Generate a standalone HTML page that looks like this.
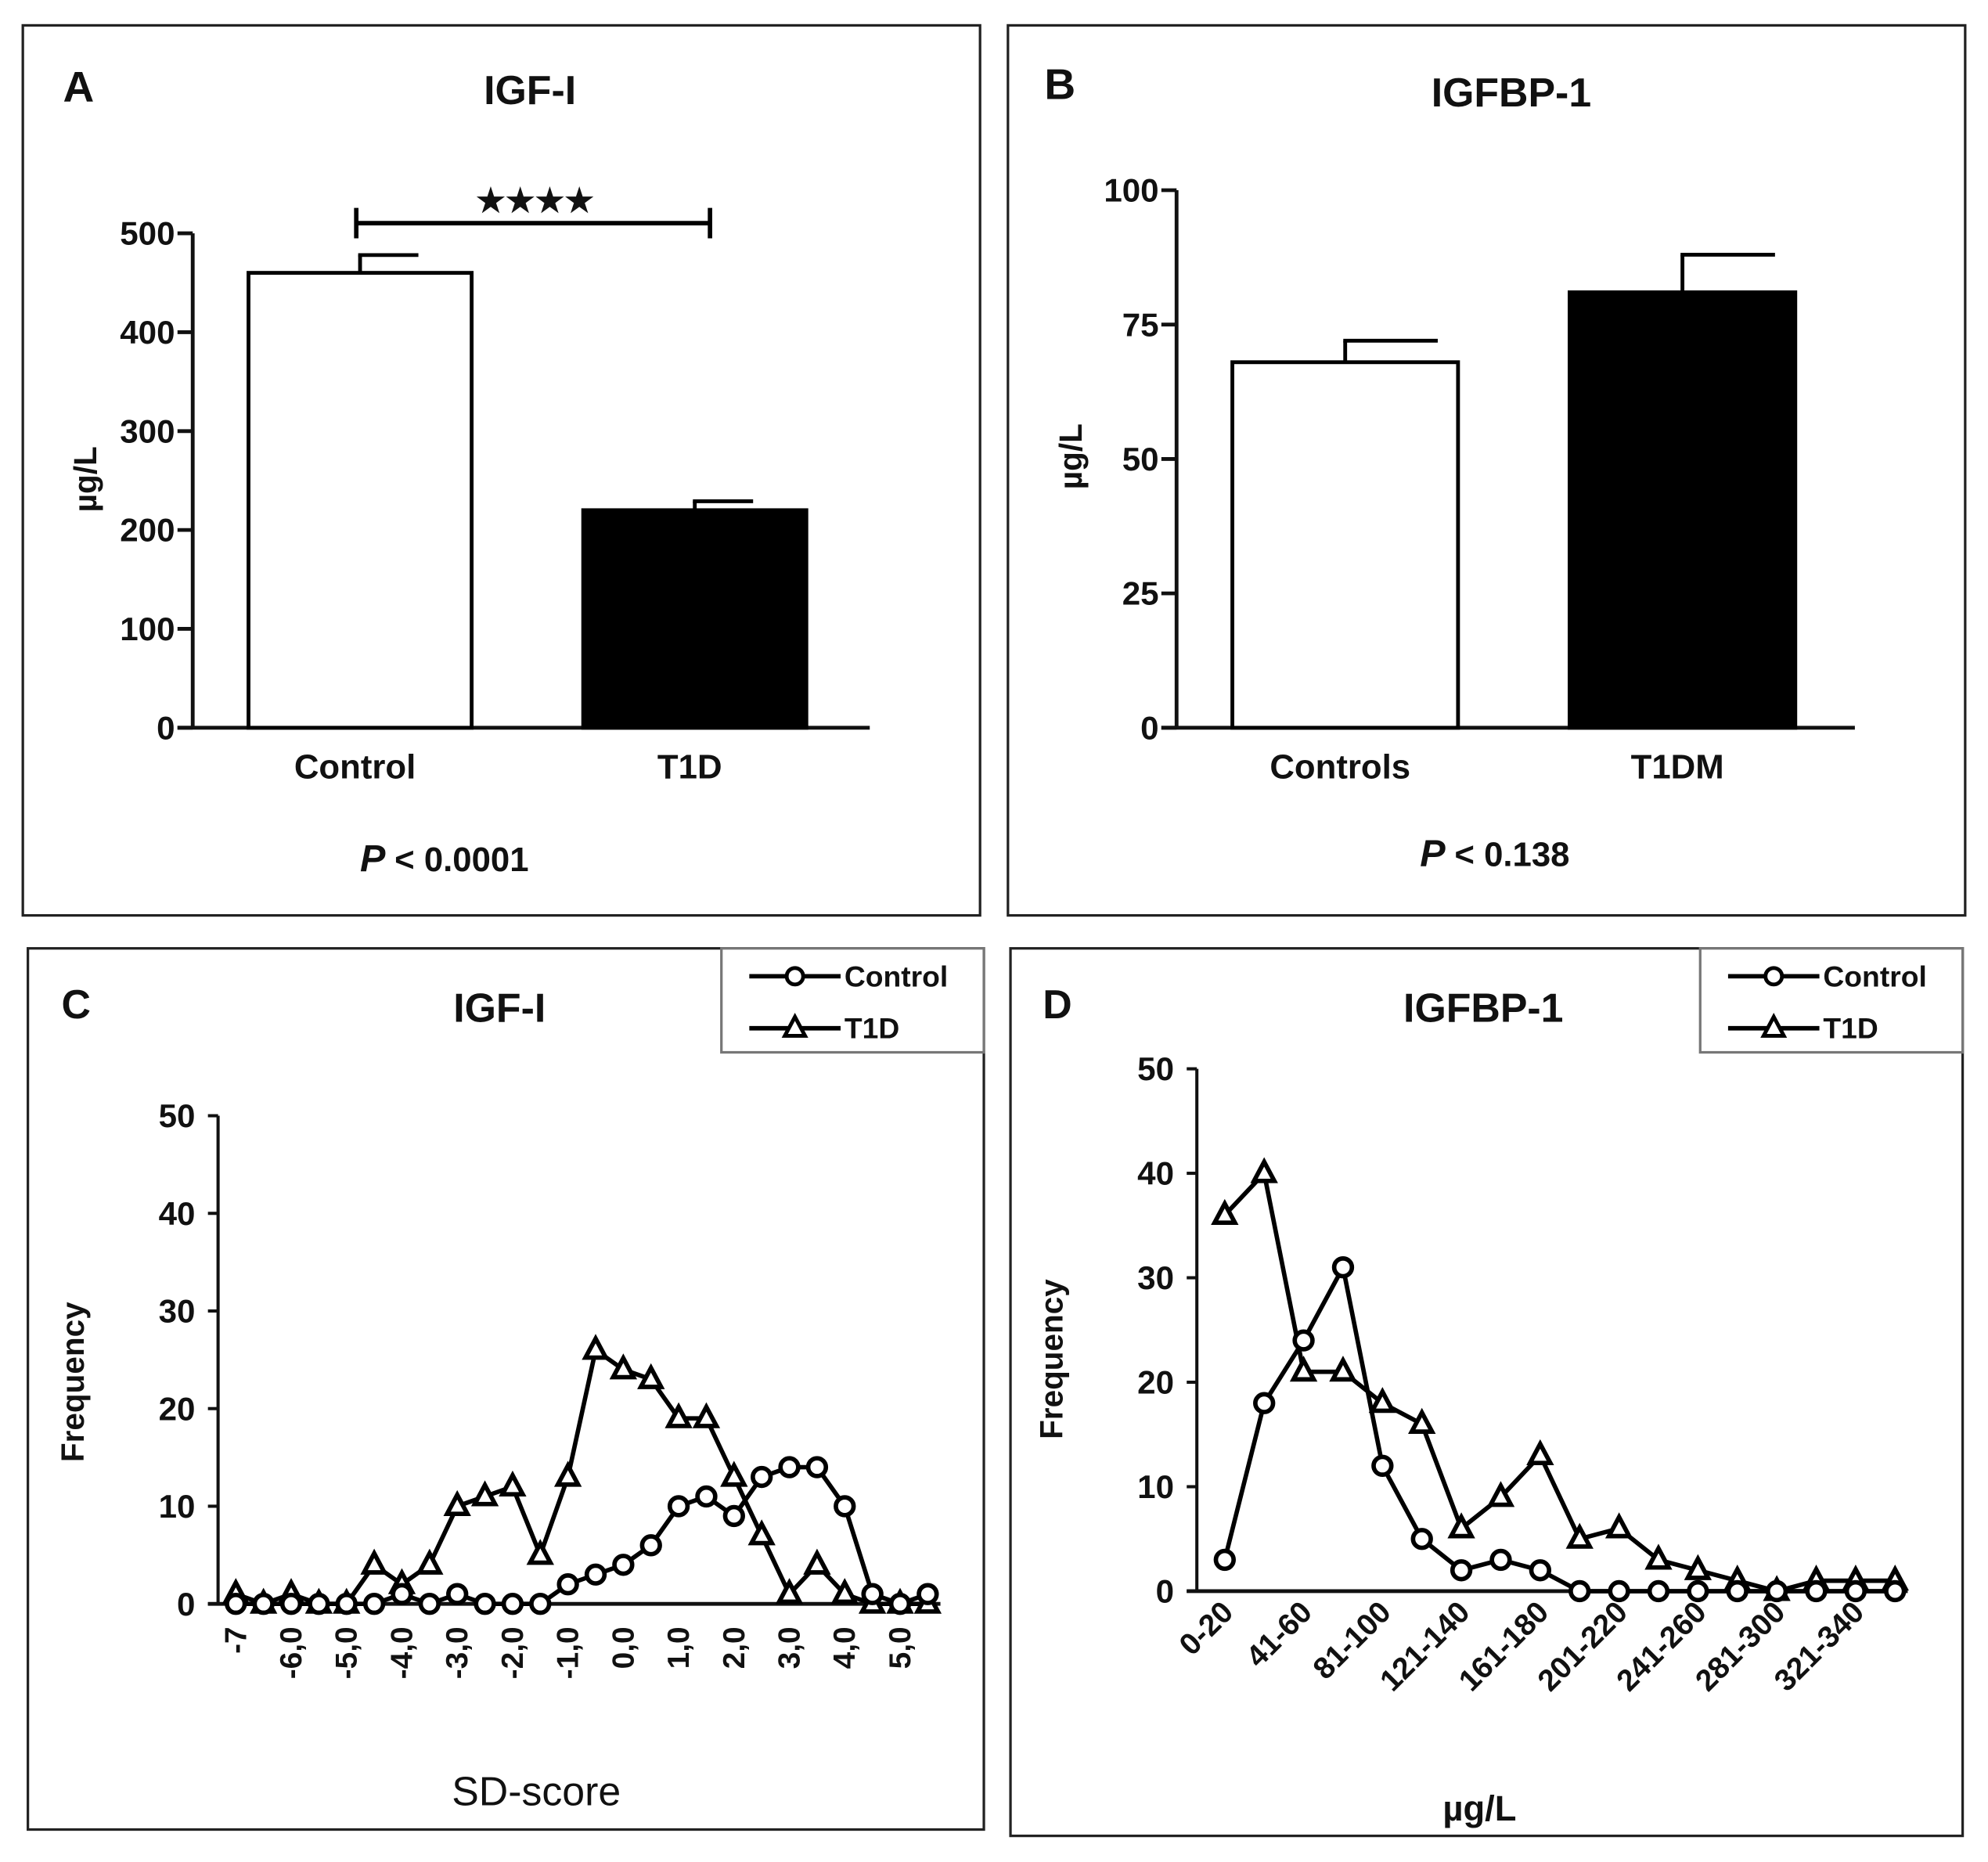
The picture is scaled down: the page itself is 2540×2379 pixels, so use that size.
<!DOCTYPE html>
<html><head><meta charset="utf-8"><style>
html,body{margin:0;padding:0;background:#fff}
svg{display:block}
text{font-family:"Liberation Sans",sans-serif;fill:#111}
</style></head><body>
<svg id="fig" width="2540" height="2379" viewBox="0 0 1568 1468.6" xmlns="http://www.w3.org/2000/svg">
<rect x="0" y="0" width="1568" height="1469" fill="#fff"/>
<rect x="18" y="20" width="755" height="702" fill="none" stroke="#222" stroke-width="2"/>
<rect x="795" y="20" width="755" height="702" fill="none" stroke="#222" stroke-width="2"/>
<rect x="22" y="748" width="754" height="695" fill="none" stroke="#222" stroke-width="2"/>
<rect x="797" y="748" width="751" height="700" fill="none" stroke="#222" stroke-width="2"/>
<g id="g"></g>
</svg>
<script>
// Panel A data
const aCats = ["Control","T1D"];
const aVals = [460,220];
const aErr = [478,229];
const aTicks = [0,100,200,300,400,500];
// Panel B data
const bCats = ["Controls","T1DM"];
const bVals = [68,81];
const bErr = [72,88];
const bTicks = [0,25,50,75,100];
// Panel C data
const cLabels = ["-7","-6,0","-5,0","-4,0","-3,0","-2,0","-1,0","0,0","1,0","2,0","3,0","4,0","5,0"];
const cControl = [0,0,0,0,0,0,1,0,1,0,0,0,2,3,4,6,10,11,9,13,14,14,10,1,0,1];
const cT1D = [1,0,1,0,0,4,2,4,10,11,12,5,13,26,24,23,19,19,13,7,1,4,1,0,0,0];
const cTicks = [0,10,20,30,40,50];
// Panel D data
const dLabels = ["0-20","41-60","81-100","121-140","161-180","201-220","241-260","281-300","321-340"];
const dControl = [3,18,24,31,12,5,2,3,2,0,0,0,0,0,0,0,0,0];
const dT1D = [36,40,21,21,18,16,6,9,13,5,6,3,2,1,0,1,1,1];
const dTicks = [0,10,20,30,40,50];

const NS="http://www.w3.org/2000/svg";
const G=document.getElementById('g');
function el(tag,attrs,parent){const e=document.createElementNS(NS,tag);for(const k in attrs)e.setAttribute(k,attrs[k]);(parent||G).appendChild(e);return e;}
function txt(x,y,s,size,opts){const t=el('text',Object.assign({x:x,y:y,'font-size':size,'font-weight':'bold','text-anchor':'middle'},opts||{}));t.textContent=s;return t;}

function barPanel(cfg){
  const y=v=>cfg.y0-(v/cfg.max)*(cfg.y0-cfg.yTop);
  const ax=el('line',{x1:cfg.ax,y1:y(cfg.max),x2:cfg.ax,y2:cfg.y0,stroke:'#111','stroke-width':3});
  
  const xa=el('line',{x1:cfg.ax-12,y1:cfg.y0,x2:cfg.xEnd,y2:cfg.y0,stroke:'#111','stroke-width':3});
  
  cfg.ticks.forEach(v=>{
    const l=el('line',{x1:cfg.ax-12,y1:y(v),x2:cfg.ax,y2:y(v),stroke:'#111','stroke-width':3});
    
    const t=txt(cfg.ax-14,y(v)+9,String(v),26,{'text-anchor':'end'});
    
  });
  cfg.cats.forEach((c,i)=>{
    const x0=cfg.barX[i], w=cfg.barW;
    const r=el('rect',{x:x0,y:y(cfg.vals[i]),width:w,height:cfg.y0-y(cfg.vals[i]),fill:i?'#000':'#fff',stroke:'#000','stroke-width':3});
    
    const cx=x0+w/2;
    const e1=el('line',{x1:cx,y1:y(cfg.vals[i]),x2:cx,y2:y(cfg.err[i]),stroke:'#000','stroke-width':3});
    
    const e2=el('line',{x1:cx-1.5,y1:y(cfg.err[i]),x2:cx+cfg.cap,y2:y(cfg.err[i]),stroke:'#000','stroke-width':3});
    
    const t=txt(cx-4,cfg.y0+40,c,27);
    
  });
}
barPanel({p:'a',cats:aCats,vals:aVals,err:aErr,ticks:aTicks,max:500,ax:152,y0:574,yTop:184,xEnd:686,barX:[196,460],barW:176,cap:46});
barPanel({p:'b',cats:bCats,vals:bVals,err:bErr,ticks:bTicks,max:100,ax:928,y0:574,yTop:150,xEnd:1463,barX:[972,1238],barW:178,cap:73});

function linePanel(cfg){
  const n=cfg.s1.length;
  const x=i=>cfg.x0+i*cfg.step;
  const y=v=>cfg.y0-(v/50)*(cfg.y0-cfg.yTop);
  const ax=el('line',{x1:cfg.ax,y1:cfg.yTop,x2:cfg.ax,y2:cfg.y0,stroke:'#111','stroke-width':2.5});
  
  const xa=el('line',{x1:cfg.ax-8,y1:cfg.y0,x2:x(n-1)+10,y2:cfg.y0,stroke:'#111','stroke-width':3});
  
  cfg.ticks.forEach(v=>{
    const l=el('line',{x1:cfg.ax-8,y1:y(v),x2:cfg.ax,y2:y(v),stroke:'#111','stroke-width':2.5});
    
    const t=txt(cfg.ax-18,y(v)+9,String(v),26,{'text-anchor':'end'});
    
  });
  cfg.labels.forEach((s,j)=>{
    const lx=x(j*2)+8, ly=cfg.y0+18;
    const t=txt(lx,ly,s,24,{'text-anchor':'end',transform:'rotate('+cfg.rot+' '+lx+' '+ly+')'});
    
  });
  [[cfg.s2,'t1d','tri'],[cfg.s1,'control','circ']].forEach(([s,name,m])=>{
    const pl=el('polyline',{points:s.map((v,i)=>x(i)+','+y(v)).join(' '),fill:'none',stroke:'#000','stroke-width':3.5});
    
    s.forEach((v,i)=>{
      let mk;
      if(m==='circ') mk=el('circle',{cx:x(i),cy:y(v),r:7,fill:'#fff',stroke:'#000','stroke-width':3.5});
      else {const X=x(i),Y=y(v);mk=el('polygon',{points:(X)+','+(Y-9)+' '+(X-8)+','+(Y+6)+' '+(X+8)+','+(Y+6),fill:'#fff',stroke:'#000','stroke-width':3.5});}
      
    });
  });
}
linePanel({p:'c',labels:cLabels,s1:cControl,s2:cT1D,ticks:cTicks,x0:186,step:21.83,ax:172,y0:1265,yTop:880,rot:-90});
linePanel({p:'d',labels:dLabels,s1:dControl,s2:dT1D,ticks:dTicks,x0:966,step:31.1,ax:944,y0:1255,yTop:843,rot:-45});

// legends
function legend(p,bx,by){
  const r=el('rect',{x:bx,y:by,width:207,height:82,fill:'#fff',stroke:'#777','stroke-width':2});
  
  [['Control',770,'circ'],['T1D',811,'tri']].forEach(([s,yy,m])=>{
    const l=el('line',{x1:bx+22,y1:yy,x2:bx+94,y2:yy,stroke:'#000','stroke-width':3.5});
    
    const cx=bx+58;let mk;
    if(m==='circ') mk=el('circle',{cx:cx,cy:yy,r:6.5,fill:'#fff',stroke:'#000','stroke-width':3});
    else mk=el('polygon',{points:cx+','+(yy-9)+' '+(cx-8)+','+(yy+6)+' '+(cx+8)+','+(yy+6),fill:'#fff',stroke:'#000','stroke-width':3});
    
    const t=txt(bx+97,yy+8,s,23,{'text-anchor':'start'});
    
  });
}
legend('c',569,748);legend('d',1341,748);

// titles & labels
const labs=[
 ['panel-a-letter',62,80,'A',34,{}],['panel-a-title',418,82,'IGF-I',32,{}],
 ['panel-b-letter',836,78,'B',34,{}],['panel-b-title',1192,84,'IGFBP-1',32,{}],
 ['panel-c-letter',60,803,'C',32,{}],['panel-c-title',394,806,'IGF-I',32,{}],
 ['panel-d-letter',834,803,'D',32,{}],['panel-d-title',1170,806,'IGFBP-1',32,{}],
 ['panel-c-x-title',423,1424,'SD-score',32,{'font-weight':'normal'}],
 ['panel-d-x-title',1167,1436,'µg/L',28,{}],
 ['panel-a-stars',422,167,'★★★★',26,{}],
];
labs.forEach(([n,x,y,s,sz,o])=>{const t=txt(x,y,s,sz,o);});
[['panel-a-y-title',76,378,'µg/L'],['panel-b-y-title',853,360,'µg/L'],['panel-c-y-title',66,1090,'Frequency'],['panel-d-y-title',838,1072,'Frequency']].forEach(([n,x,y,s])=>{
  const t=txt(x,y,s,25,{transform:'rotate(-90 '+x+' '+y+')'});
});
// p-values
[['panel-a-pvalue',284,687,'< 0.0001'],['panel-b-pvalue',1120,683,'< 0.138']].forEach(([n,x,y,s])=>{
  const t=el('text',{x:x,y:y,'font-size':30,'font-weight':'bold'});
  
  const a=el('tspan',{'font-style':'italic'},t);a.textContent='P ';
  const b=el('tspan',{'font-size':27},t);b.textContent=s;
});
// significance bracket
const br=el('path',{d:'M281 164 V188 M281 176 H560 M560 164 V188',fill:'none',stroke:'#000','stroke-width':3.5});

</script>
</body></html>
